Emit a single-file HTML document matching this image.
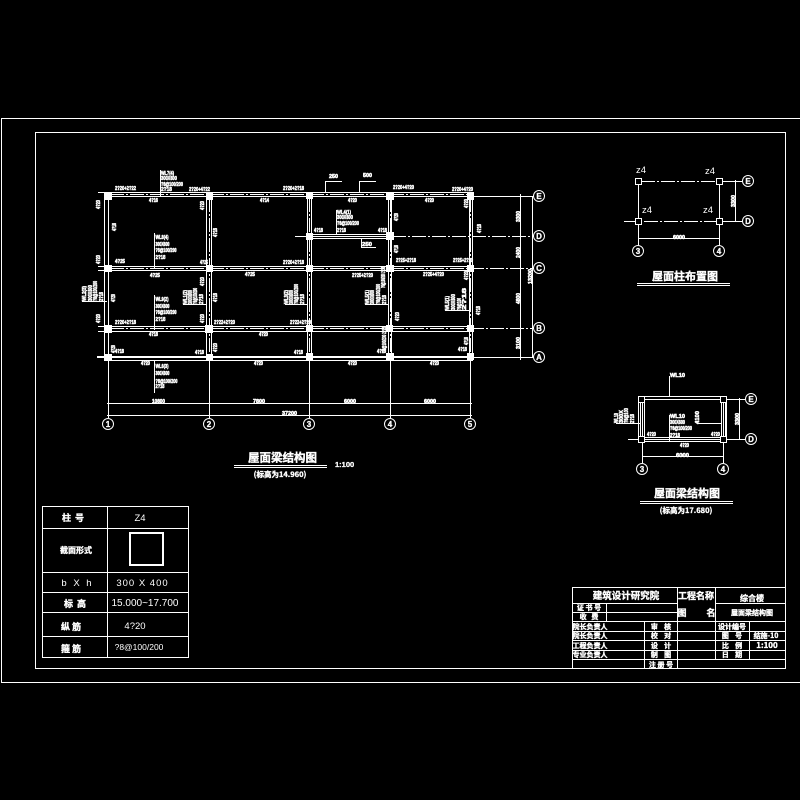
<!DOCTYPE html>
<html><head><meta charset="utf-8"><style>
html,body{margin:0;padding:0;background:#000}
svg{display:block}
.l line,.l rect,.l path{stroke:#fff;fill:none;stroke-width:1;shape-rendering:crispEdges}
.d line{stroke-dasharray:14 2 2 2}
text{fill:#fff;font-family:"Liberation Sans","Noto Sans CJK SC",sans-serif}
.s text{font-size:5.5px;font-weight:bold;stroke:#fff;stroke-width:.55}
.c{font-family:"Noto Sans CJK SC","Liberation Sans",sans-serif;font-weight:bold;text-anchor:middle;stroke:#fff;stroke-width:.35}
.m{text-anchor:middle}
.b circle{stroke:#fff;fill:#000;stroke-width:1}
.b text{font-size:8px;text-anchor:middle;font-weight:bold;stroke:#fff;stroke-width:.3}
.sq rect{fill:#fff;stroke:none}
.o rect{fill:#000;stroke:#fff;stroke-width:1;shape-rendering:crispEdges}
</style></head><body>
<svg width="800" height="800" viewBox="0 0 800 800" xmlns="http://www.w3.org/2000/svg">
<rect width="800" height="800" fill="#000"/>
<g class="l">
<path d="M800 118.500H1.500V682.500H800"/>
<rect x="35.500" y="132.500" width="750" height="536"/>

<!-- main plan beams -->
<line x1="98" y1="192.500" x2="473" y2="192.500"/><line x1="104" y1="196.500" x2="473" y2="196.500"/>
<line x1="98" y1="266.500" x2="473" y2="266.500"/><line x1="98" y1="270.500" x2="473" y2="270.500"/>
<line x1="98" y1="326.500" x2="473" y2="326.500"/><line x1="98" y1="331.500" x2="473" y2="331.500"/>
<line x1="97" y1="356.500" x2="473" y2="356.500"/><line x1="97" y1="357.500" x2="473" y2="357.500"/>
<line x1="104" y1="360.500" x2="473" y2="360.500"/>
<line x1="104.500" y1="192" x2="104.500" y2="361"/><line x1="108.500" y1="192" x2="108.500" y2="418"/>
<line x1="206.500" y1="192" x2="206.500" y2="357"/><line x1="211.500" y1="192" x2="211.500" y2="357"/>
<line x1="307.500" y1="192" x2="307.500" y2="357"/><line x1="311.500" y1="192" x2="311.500" y2="357"/>
<line x1="388.500" y1="192" x2="388.500" y2="357"/><line x1="391.500" y1="192" x2="391.500" y2="357"/>
<line x1="469.500" y1="192" x2="469.500" y2="357"/><line x1="472.500" y1="192" x2="472.500" y2="357"/>
<g class="d">
<line x1="110" y1="194.500" x2="470" y2="194.500"/><line x1="110" y1="268.500" x2="535" y2="268.500"/>
<line x1="110" y1="328.500" x2="535" y2="328.500"/>
<line x1="209.500" y1="198" x2="209.500" y2="357"/><line x1="309.500" y1="198" x2="309.500" y2="357"/>
<line x1="390.500" y1="198" x2="390.500" y2="357"/><line x1="470.500" y1="198" x2="470.500" y2="357"/>
<line x1="392" y1="236.500" x2="535" y2="236.500"/>
</g>
<line x1="295" y1="236.500" x2="390" y2="236.500"/><line x1="312" y1="234.500" x2="388" y2="234.500"/><line x1="312" y1="238.500" x2="388" y2="238.500"/>
<line x1="473" y1="196.500" x2="535" y2="196.500"/><line x1="473" y1="357.500" x2="535" y2="357.500"/>

<!-- grid & dims -->
<line x1="209.500" y1="360" x2="209.500" y2="418"/><line x1="309.500" y1="360" x2="309.500" y2="418"/>
<line x1="390.500" y1="360" x2="390.500" y2="418"/><line x1="470.500" y1="360" x2="470.500" y2="418"/>
<line x1="107" y1="403.500" x2="472" y2="403.500"/><line x1="107" y1="415.500" x2="472" y2="415.500"/>
<line x1="520.500" y1="194" x2="520.500" y2="360"/><line x1="532.500" y1="196" x2="532.500" y2="358"/>

<!-- leaders -->
<line x1="160.500" y1="170" x2="160.500" y2="196"/>
<line x1="154.500" y1="233" x2="154.500" y2="268"/>
<line x1="154.500" y1="295" x2="154.500" y2="330"/>
<line x1="154.500" y1="360" x2="154.500" y2="393"/>
<line x1="336.500" y1="210" x2="336.500" y2="234"/>
<path d="M325.500 192V181.500H342"/><path d="M359.500 192V181.500H376"/>
<path d="M361.500 238V247.500H376"/>
<line x1="82" y1="301.500" x2="107" y2="301.500"/>
<line x1="183" y1="304.500" x2="207" y2="304.500"/>
<line x1="285" y1="304.500" x2="307" y2="304.500"/>
<line x1="365" y1="304.500" x2="389" y2="304.500"/>
<line x1="445" y1="310.500" x2="470" y2="310.500"/>

<!-- column plan -->
<g class="d">
<line x1="641" y1="181.500" x2="716" y2="181.500"/><line x1="624" y1="221.500" x2="716" y2="221.500"/>
</g>
<line x1="722" y1="181.500" x2="743" y2="181.500"/><line x1="722" y1="221.500" x2="743" y2="221.500"/>
<line x1="638.500" y1="185" x2="638.500" y2="246"/><line x1="719.500" y1="185" x2="719.500" y2="246"/>
<line x1="638" y1="238.500" x2="720" y2="238.500"/><line x1="735.500" y1="180" x2="735.500" y2="222"/>
<line x1="637" y1="283.500" x2="730" y2="283.500"/><line x1="637" y1="285.500" x2="730" y2="285.500"/>

<!-- lower right -->
<rect x="638.500" y="396.500" width="88" height="45"/>
<line x1="642" y1="399.500" x2="723" y2="399.500"/>
<line x1="628" y1="439.500" x2="747" y2="439.500"/><line x1="642" y1="437.500" x2="723" y2="437.500"/>
<line x1="726" y1="399.500" x2="747" y2="399.500"/>
<line x1="640.500" y1="397" x2="640.500" y2="441"/><line x1="642.500" y1="397" x2="642.500" y2="463"/><line x1="644.500" y1="399" x2="644.500" y2="437"/>
<line x1="721.500" y1="399" x2="721.500" y2="437"/><line x1="723.500" y1="397" x2="723.500" y2="463"/><line x1="725.500" y1="397" x2="725.500" y2="441"/>
<line x1="642" y1="456.500" x2="724" y2="456.500"/><line x1="739.500" y1="398" x2="739.500" y2="440"/>
<line x1="669.500" y1="376" x2="669.500" y2="397"/>
<line x1="669.500" y1="415" x2="669.500" y2="441"/>
<line x1="698" y1="423.500" x2="722" y2="423.500"/>
<line x1="616" y1="423.500" x2="640" y2="423.500"/>
<line x1="640" y1="501.500" x2="733" y2="501.500"/><line x1="640" y1="503.500" x2="733" y2="503.500"/>

<!-- title underline main -->
<line x1="234" y1="465.500" x2="327" y2="465.500"/><line x1="234" y1="467.500" x2="327" y2="467.500"/>

<!-- table -->
<rect x="42.500" y="506.500" width="146" height="151"/>
<line x1="107.500" y1="506" x2="107.500" y2="657"/>
<line x1="42" y1="528.500" x2="188" y2="528.500"/><line x1="42" y1="572.500" x2="188" y2="572.500"/>
<line x1="42" y1="592.500" x2="188" y2="592.500"/><line x1="42" y1="612.500" x2="188" y2="612.500"/>
<line x1="42" y1="636.500" x2="188" y2="636.500"/>
<rect x="130" y="533" width="33" height="32" style="stroke-width:2"/>

<!-- title block -->
<rect x="572.500" y="587.500" width="213" height="81"/>
<line x1="677.500" y1="587" x2="677.500" y2="668"/><line x1="715.500" y1="587" x2="715.500" y2="659"/>
<line x1="606.500" y1="603" x2="606.500" y2="621"/><line x1="644.500" y1="621" x2="644.500" y2="668"/>
<line x1="749.500" y1="621" x2="749.500" y2="659"/>
<line x1="572" y1="603.500" x2="677" y2="603.500"/><line x1="715" y1="603.500" x2="785" y2="603.500"/>
<line x1="572" y1="612.500" x2="677" y2="612.500"/>
<line x1="572" y1="621.500" x2="785" y2="621.500"/><line x1="572" y1="631.500" x2="785" y2="631.500"/>
<line x1="572" y1="640.500" x2="785" y2="640.500"/><line x1="572" y1="650.500" x2="785" y2="650.500"/>
<line x1="572" y1="659.500" x2="785" y2="659.500"/>
</g>

<!-- column solids -->
<g class="sq">
<rect x="104" y="192" width="8" height="8"/><rect x="206" y="192" width="7" height="8"/><rect x="306" y="192" width="7" height="7"/><rect x="386" y="192" width="8" height="8"/><rect x="467" y="192" width="7" height="8"/>
<rect x="306" y="233" width="7" height="7"/><rect x="386" y="232" width="8" height="8"/>
<rect x="104" y="265" width="8" height="7"/><rect x="206" y="265" width="7" height="7"/><rect x="306" y="265" width="7" height="7"/><rect x="386" y="265" width="8" height="7"/><rect x="467" y="265" width="7" height="7"/>
<rect x="104" y="325" width="8" height="8"/><rect x="205" y="325" width="8" height="8"/><rect x="306" y="325" width="7" height="7"/><rect x="386" y="325" width="7" height="7"/><rect x="467" y="325" width="7" height="7"/>
<rect x="104" y="354" width="8" height="7"/><rect x="206" y="354" width="7" height="7"/><rect x="306" y="353" width="7" height="7"/><rect x="386" y="353" width="8" height="7"/><rect x="467" y="353" width="7" height="7"/>
</g>
<g class="o">
<rect x="635.500" y="178.500" width="6" height="6"/><rect x="716.500" y="178.500" width="6" height="6"/>
<rect x="635.500" y="218.500" width="6" height="6"/><rect x="716.500" y="218.500" width="6" height="6"/>
<rect x="638.500" y="396.500" width="6" height="6"/><rect x="720.500" y="396.500" width="6" height="6"/>
<rect x="638.500" y="436.500" width="6" height="6"/><rect x="720.500" y="436.500" width="6" height="6"/>
</g>

<!-- axis bubbles -->
<g class="b">
<circle cx="108" cy="424" r="5.500"/><text x="108" y="427">1</text>
<circle cx="209" cy="424" r="5.500"/><text x="209" y="427">2</text>
<circle cx="309" cy="424" r="5.500"/><text x="309" y="427">3</text>
<circle cx="390" cy="424" r="5.500"/><text x="390" y="427">4</text>
<circle cx="470" cy="424" r="5.500"/><text x="470" y="427">5</text>
<circle cx="539" cy="196" r="5.500"/><text x="539" y="199">E</text>
<circle cx="539" cy="236" r="5.500"/><text x="539" y="239">D</text>
<circle cx="539" cy="268" r="5.500"/><text x="539" y="271">C</text>
<circle cx="539" cy="328" r="5.500"/><text x="539" y="331">B</text>
<circle cx="539" cy="357" r="5.500"/><text x="539" y="360">A</text>
<circle cx="748" cy="181" r="5.500"/><text x="748" y="184">E</text>
<circle cx="748" cy="221" r="5.500"/><text x="748" y="224">D</text>
<circle cx="638" cy="251" r="5.500"/><text x="638" y="254">3</text>
<circle cx="719" cy="251" r="5.500"/><text x="719" y="254">4</text>
<circle cx="751" cy="399" r="5.500"/><text x="751" y="402">E</text>
<circle cx="751" cy="439" r="5.500"/><text x="751" y="442">D</text>
<circle cx="642" cy="469" r="5.500"/><text x="642" y="472">3</text>
<circle cx="723" cy="469" r="5.500"/><text x="723" y="472">4</text>
</g>

<!-- small labels -->
<g class="s">
<text x="115" y="190" textLength="21" lengthAdjust="spacingAndGlyphs">2?20+2?22</text>
<text x="189" y="191" textLength="21" lengthAdjust="spacingAndGlyphs">2?20+4?22</text>
<text x="283" y="190" textLength="21" lengthAdjust="spacingAndGlyphs">2?20+2?18</text>
<text x="393" y="189" textLength="21" lengthAdjust="spacingAndGlyphs">2?20+4?20</text>
<text x="452" y="191" textLength="21" lengthAdjust="spacingAndGlyphs">2?20+4?20</text>
<text x="283" y="264" textLength="21" lengthAdjust="spacingAndGlyphs">2?20+2?18</text>
<text x="396" y="262" textLength="20" lengthAdjust="spacingAndGlyphs">2?25+2?18</text>
<text x="453" y="262" textLength="20" lengthAdjust="spacingAndGlyphs">2?25+2?20</text>
<text x="352" y="277" textLength="21" lengthAdjust="spacingAndGlyphs">2?25+2?20</text>
<text x="423" y="276" textLength="21" lengthAdjust="spacingAndGlyphs">2?25+4?20</text>
<text x="115" y="324" textLength="21" lengthAdjust="spacingAndGlyphs">2?20+2?18</text>
<text x="214" y="324" textLength="21" lengthAdjust="spacingAndGlyphs">2?22+2?20</text>
<text x="290" y="324" textLength="21" lengthAdjust="spacingAndGlyphs">2?22+2?20</text>

<text x="149" y="202" textLength="9" lengthAdjust="spacingAndGlyphs">4?16</text>
<text x="260" y="202" textLength="9" lengthAdjust="spacingAndGlyphs">4?14</text>
<text x="348" y="202" textLength="9" lengthAdjust="spacingAndGlyphs">4?20</text>
<text x="425" y="202" textLength="9" lengthAdjust="spacingAndGlyphs">4?20</text>
<text x="314" y="232" textLength="9" lengthAdjust="spacingAndGlyphs">4?18</text>
<text x="378" y="232" textLength="9" lengthAdjust="spacingAndGlyphs">4?18</text>
<text x="150" y="277" textLength="10" lengthAdjust="spacingAndGlyphs">4?25</text>
<text x="245" y="276" textLength="10" lengthAdjust="spacingAndGlyphs">4?25</text>
<text x="200" y="264" textLength="8" lengthAdjust="spacingAndGlyphs">4?25</text>
<text x="115" y="263" textLength="10" lengthAdjust="spacingAndGlyphs">4?25</text>

<text x="149" y="336" textLength="9" lengthAdjust="spacingAndGlyphs">4?18</text>
<text x="259" y="336" textLength="9" lengthAdjust="spacingAndGlyphs">4?20</text>
<text x="115" y="353" textLength="9" lengthAdjust="spacingAndGlyphs">4?18</text>
<text x="195" y="354" textLength="9" lengthAdjust="spacingAndGlyphs">4?18</text>
<text x="294" y="354" textLength="9" lengthAdjust="spacingAndGlyphs">4?18</text>
<text x="377" y="353" textLength="9" lengthAdjust="spacingAndGlyphs">4?18</text>
<text x="458" y="351" textLength="9" lengthAdjust="spacingAndGlyphs">4?18</text>
<text x="141" y="365" textLength="9" lengthAdjust="spacingAndGlyphs">4?20</text>
<text x="254" y="365" textLength="9" lengthAdjust="spacingAndGlyphs">4?20</text>
<text x="348" y="365" textLength="9" lengthAdjust="spacingAndGlyphs">4?20</text>
<text x="430" y="365" textLength="9" lengthAdjust="spacingAndGlyphs">4?20</text>

<text x="161" y="175" textLength="13" lengthAdjust="spacingAndGlyphs">WL7(4)</text>
<text x="161" y="180" textLength="16" lengthAdjust="spacingAndGlyphs">300X600</text>
<text x="161" y="186" textLength="22" lengthAdjust="spacingAndGlyphs">?8@100/200</text>
<text x="161" y="191" textLength="11" lengthAdjust="spacingAndGlyphs">2?18</text>
<text x="155.500" y="239" textLength="13" lengthAdjust="spacingAndGlyphs">WL8(4)</text>
<text x="155.500" y="246" textLength="14" lengthAdjust="spacingAndGlyphs">300X600</text>
<text x="155.500" y="252" textLength="21" lengthAdjust="spacingAndGlyphs">?8@100/200</text>
<text x="155.500" y="259" textLength="10" lengthAdjust="spacingAndGlyphs">2?18</text>
<text x="155.500" y="301" textLength="13" lengthAdjust="spacingAndGlyphs">WL9(2)</text>
<text x="155.500" y="308" textLength="14" lengthAdjust="spacingAndGlyphs">300X600</text>
<text x="155.500" y="314" textLength="21" lengthAdjust="spacingAndGlyphs">?8@100/200</text>
<text x="155.500" y="321" textLength="10" lengthAdjust="spacingAndGlyphs">2?18</text>
<text x="155.500" y="368" textLength="13" lengthAdjust="spacingAndGlyphs">WL6(3)</text>
<text x="155.500" y="375" textLength="14" lengthAdjust="spacingAndGlyphs">300X600</text>
<text x="155.500" y="383" textLength="22" lengthAdjust="spacingAndGlyphs">?8@100/200</text>
<text x="155.500" y="388" textLength="9" lengthAdjust="spacingAndGlyphs">2?18</text>
<text x="337" y="214" textLength="14" lengthAdjust="spacingAndGlyphs">WL4(1)</text>
<text x="337" y="219" textLength="16" lengthAdjust="spacingAndGlyphs">300X600</text>
<text x="337" y="225" textLength="22" lengthAdjust="spacingAndGlyphs">?8@100/200</text>
<text x="337" y="232" textLength="9" lengthAdjust="spacingAndGlyphs">2?18</text>

<text x="329" y="178" textLength="9" lengthAdjust="spacingAndGlyphs">250</text>
<text x="363" y="177" textLength="9" lengthAdjust="spacingAndGlyphs">500</text>
<text x="362" y="246" textLength="10" lengthAdjust="spacingAndGlyphs">250</text>

<text x="152" y="403" textLength="13" lengthAdjust="spacingAndGlyphs">10800</text>
<text x="253" y="403" textLength="12" lengthAdjust="spacingAndGlyphs">7800</text>
<text x="344" y="403" textLength="12" lengthAdjust="spacingAndGlyphs">6000</text>
<text x="424" y="403" textLength="12" lengthAdjust="spacingAndGlyphs">6000</text>
<text x="282" y="415" textLength="15" lengthAdjust="spacingAndGlyphs">37200</text>

<g id="rot">
<text transform="translate(100,209) rotate(-90)" textLength="9" lengthAdjust="spacingAndGlyphs">4?20</text>
<text transform="translate(100,264) rotate(-90)" textLength="9" lengthAdjust="spacingAndGlyphs">4?20</text>
<text transform="translate(100,323) rotate(-90)" textLength="9" lengthAdjust="spacingAndGlyphs">4?20</text>
<text transform="translate(116,231) rotate(-90)" textLength="8" lengthAdjust="spacingAndGlyphs">4?18</text>
<text transform="translate(115,302) rotate(-90)" textLength="8" lengthAdjust="spacingAndGlyphs">4?20</text>
<text transform="translate(115,353) rotate(-90)" textLength="8" lengthAdjust="spacingAndGlyphs">4?20</text>
<text transform="translate(204,210) rotate(-90)" textLength="9" lengthAdjust="spacingAndGlyphs">4?20</text>
<text transform="translate(217,237) rotate(-90)" textLength="9" lengthAdjust="spacingAndGlyphs">4?18</text>
<text transform="translate(204,286) rotate(-90)" textLength="9" lengthAdjust="spacingAndGlyphs">4?20</text>
<text transform="translate(217,302) rotate(-90)" textLength="9" lengthAdjust="spacingAndGlyphs">4?18</text>
<text transform="translate(204,323) rotate(-90)" textLength="9" lengthAdjust="spacingAndGlyphs">4?20</text>
<text transform="translate(217,352) rotate(-90)" textLength="9" lengthAdjust="spacingAndGlyphs">4?20</text>
<text transform="translate(398,221) rotate(-90)" textLength="8" lengthAdjust="spacingAndGlyphs">4?20</text>
<text transform="translate(398,253) rotate(-90)" textLength="8" lengthAdjust="spacingAndGlyphs">4?18</text>
<text transform="translate(399,321) rotate(-90)" textLength="9" lengthAdjust="spacingAndGlyphs">4?20</text>
<text transform="translate(468,208) rotate(-90)" textLength="9" lengthAdjust="spacingAndGlyphs">4?20</text>
<text transform="translate(481,233) rotate(-90)" textLength="9" lengthAdjust="spacingAndGlyphs">4?18</text>
<text transform="translate(468,280) rotate(-90)" textLength="9" lengthAdjust="spacingAndGlyphs">4?20</text>
<text transform="translate(480,315) rotate(-90)" textLength="9" lengthAdjust="spacingAndGlyphs">4?18</text>
<text transform="translate(468,345) rotate(-90)" textLength="8" lengthAdjust="spacingAndGlyphs">4?18</text>

<text transform="translate(86,301) rotate(-90)" textLength="15" lengthAdjust="spacingAndGlyphs">WL2(3)</text>
<text transform="translate(92,301) rotate(-90)" textLength="16" lengthAdjust="spacingAndGlyphs">300X600</text>
<text transform="translate(97,301) rotate(-90)" textLength="20" lengthAdjust="spacingAndGlyphs">?8@100/200</text>
<text transform="translate(103,301) rotate(-90)" textLength="9" lengthAdjust="spacingAndGlyphs">2?18</text>
<text transform="translate(187,304) rotate(-90)" textLength="14" lengthAdjust="spacingAndGlyphs">WL1(2)</text>
<text transform="translate(192,304) rotate(-90)" textLength="14" lengthAdjust="spacingAndGlyphs">300X600</text>
<text transform="translate(197,304) rotate(-90)" textLength="16" lengthAdjust="spacingAndGlyphs">?8@100/200</text>
<text transform="translate(203,304) rotate(-90)" textLength="10" lengthAdjust="spacingAndGlyphs">2?18</text>
<text transform="translate(288,304) rotate(-90)" textLength="14" lengthAdjust="spacingAndGlyphs">WL3(2)</text>
<text transform="translate(293,304) rotate(-90)" textLength="14" lengthAdjust="spacingAndGlyphs">300X600</text>
<text transform="translate(298,304) rotate(-90)" textLength="20" lengthAdjust="spacingAndGlyphs">?8@100/200</text>
<text transform="translate(304,304) rotate(-90)" textLength="10" lengthAdjust="spacingAndGlyphs">2?18</text>
<text transform="translate(369,304) rotate(-90)" textLength="14" lengthAdjust="spacingAndGlyphs">WL5(1)</text>
<text transform="translate(374,304) rotate(-90)" textLength="14" lengthAdjust="spacingAndGlyphs">300X600</text>
<text transform="translate(380,304) rotate(-90)" textLength="20" lengthAdjust="spacingAndGlyphs">?8@100/200</text>
<text transform="translate(386,304) rotate(-90)" textLength="9" lengthAdjust="spacingAndGlyphs">2?18</text>
<text transform="translate(449,310) rotate(-90)" textLength="14" lengthAdjust="spacingAndGlyphs">WL5(1)</text>
<text transform="translate(455,310) rotate(-90)" textLength="16" lengthAdjust="spacingAndGlyphs">300X600</text>
<text transform="translate(461,310) rotate(-90)" textLength="12" lengthAdjust="spacingAndGlyphs">?8@100</text>
<text transform="translate(466,310) rotate(-90)" textLength="22" lengthAdjust="spacingAndGlyphs">2?18</text>
<text transform="translate(386,352) rotate(-90)" textLength="25" lengthAdjust="spacingAndGlyphs">?8@100/200 2?18</text>
<text transform="translate(385,288) rotate(-90)" textLength="21" lengthAdjust="spacingAndGlyphs">?8@100/200 2?18</text>

<text transform="translate(520,222) rotate(-90)" textLength="11" lengthAdjust="spacingAndGlyphs">3300</text>
<text transform="translate(520,258) rotate(-90)" textLength="11" lengthAdjust="spacingAndGlyphs">2400</text>
<text transform="translate(520,304) rotate(-90)" textLength="11" lengthAdjust="spacingAndGlyphs">4800</text>
<text transform="translate(520,349) rotate(-90)" textLength="12" lengthAdjust="spacingAndGlyphs">3100</text>
<text transform="translate(532,284) rotate(-90)" textLength="15" lengthAdjust="spacingAndGlyphs">13200</text>
<text transform="translate(735,207) rotate(-90)" textLength="12" lengthAdjust="spacingAndGlyphs">3300</text>
<text transform="translate(739,425) rotate(-90)" textLength="12" lengthAdjust="spacingAndGlyphs">3300</text>
<text transform="translate(699,424) rotate(-90)" textLength="13" lengthAdjust="spacingAndGlyphs">4100</text>
<text transform="translate(618,423) rotate(-90)" textLength="10" lengthAdjust="spacingAndGlyphs">WL10</text>
<text transform="translate(623,423) rotate(-90)" textLength="13" lengthAdjust="spacingAndGlyphs">300X</text>
<text transform="translate(628,423) rotate(-90)" textLength="15" lengthAdjust="spacingAndGlyphs">?8@100</text>
<text transform="translate(634,423) rotate(-90)" textLength="9" lengthAdjust="spacingAndGlyphs">2?18</text>
</g>

<text x="673" y="239" textLength="12" lengthAdjust="spacingAndGlyphs">6000</text>
<text x="670" y="377" textLength="15" lengthAdjust="spacingAndGlyphs">WL10</text>
<text x="670" y="418" textLength="15" lengthAdjust="spacingAndGlyphs">WL10</text>
<text x="670" y="424" textLength="15" lengthAdjust="spacingAndGlyphs">300X600</text>
<text x="670" y="430" textLength="22" lengthAdjust="spacingAndGlyphs">?8@100/200</text>
<text x="670" y="437" textLength="10" lengthAdjust="spacingAndGlyphs">2?18</text>
<text x="647" y="436" textLength="9" lengthAdjust="spacingAndGlyphs">4?20</text>
<text x="711" y="436" textLength="9" lengthAdjust="spacingAndGlyphs">4?20</text>
<text x="680" y="447" textLength="9" lengthAdjust="spacingAndGlyphs">4?20</text>
<text x="676" y="457" textLength="13" lengthAdjust="spacingAndGlyphs">6000</text>
</g>

<!-- column labels -->
<g font-size="9.500">
<text x="636" y="173">z4</text><text x="705" y="174">z4</text>
<text x="642" y="213">z4</text><text x="703" y="213">z4</text>
</g>

<!-- titles -->
<text class="c" x="282.500" y="461.500" font-size="11.500">屋面梁结构图</text>
<text class="c" x="280" y="477" font-size="7.500">(标高为14.960)</text>
<text x="335" y="467" font-size="7.500" font-weight="bold" stroke="#fff" stroke-width=".3">1:100</text>
<text class="c" x="685" y="280" font-size="11">屋面柱布置图</text>
<text class="c" x="687" y="497" font-size="11">屋面梁结构图</text>
<text class="c" x="686" y="513" font-size="7.500">(标高为17.680)</text>

<!-- table text -->
<text class="c" x="73" y="521" font-size="9">柱&#160;&#160;号</text>
<text class="c" x="76" y="553" font-size="8">截面形式</text>
<text class="c" x="75" y="607" font-size="9">标&#160;&#160;高</text>
<text class="c" x="71" y="630" font-size="9">纵&#160;筋</text>
<text class="c" x="71" y="652" font-size="9">箍&#160;筋</text>
<g font-size="9.500">
<text class="m" x="77.500" y="586" letter-spacing="2">b X h</text>
<text class="m" x="140" y="521">Z4</text>
<text class="m" x="142.500" y="586" letter-spacing="1">300 X 400</text>
<text class="m" x="145" y="606" font-size="10">15.000~17.700</text>
<text class="m" x="135" y="629">4?20</text>
<text class="m" x="139" y="650" font-size="8.500">?8@100/200</text>
</g>

<!-- title block text -->
<text class="c" x="626" y="599" font-size="9.500">建筑设计研究院</text>
<text class="c" x="696" y="599" font-size="9">工程名称</text>
<text class="c" x="752" y="601" font-size="8">综合楼</text>
<text class="c" x="752" y="615" font-size="7">屋面梁结构图</text>
<text class="c" x="589" y="610" font-size="7">证&#160;书&#160;号</text>
<text class="c" x="589" y="619" font-size="7">收&#160;&#160;&#160;费</text>
<text class="c" x="590" y="629" font-size="7">院长负责人</text>
<text class="c" x="590" y="638" font-size="7">院长负责人</text>
<text class="c" x="590" y="648" font-size="7">工程负责人</text>
<text class="c" x="590" y="657" font-size="7">专业负责人</text>
<text class="c" x="661" y="629" font-size="7">审&#160;&#160;&#160;&#160;核</text>
<text class="c" x="661" y="638" font-size="7">校&#160;&#160;&#160;&#160;对</text>
<text class="c" x="661" y="648" font-size="7">设&#160;&#160;&#160;&#160;计</text>
<text class="c" x="661" y="657" font-size="7">制&#160;&#160;&#160;&#160;图</text>
<text class="c" x="661" y="667" font-size="7">注&#160;册&#160;号</text>
<text class="c" x="682" y="616" font-size="9">图</text><text class="c" x="711" y="616" font-size="9">名</text>
<text class="c" x="732" y="629" font-size="7">设计编号</text>
<text class="c" x="732" y="638" font-size="7">图&#160;&#160;&#160;&#160;号</text>
<text class="c" x="732" y="648" font-size="7">比&#160;&#160;&#160;&#160;例</text>
<text class="c" x="732" y="657" font-size="7">日&#160;&#160;&#160;&#160;期</text>
<text class="c" x="766" y="638" font-size="7">结施-10</text>
<text class="c" x="767" y="648" font-size="8">1:100</text>
</svg>
</body></html>
